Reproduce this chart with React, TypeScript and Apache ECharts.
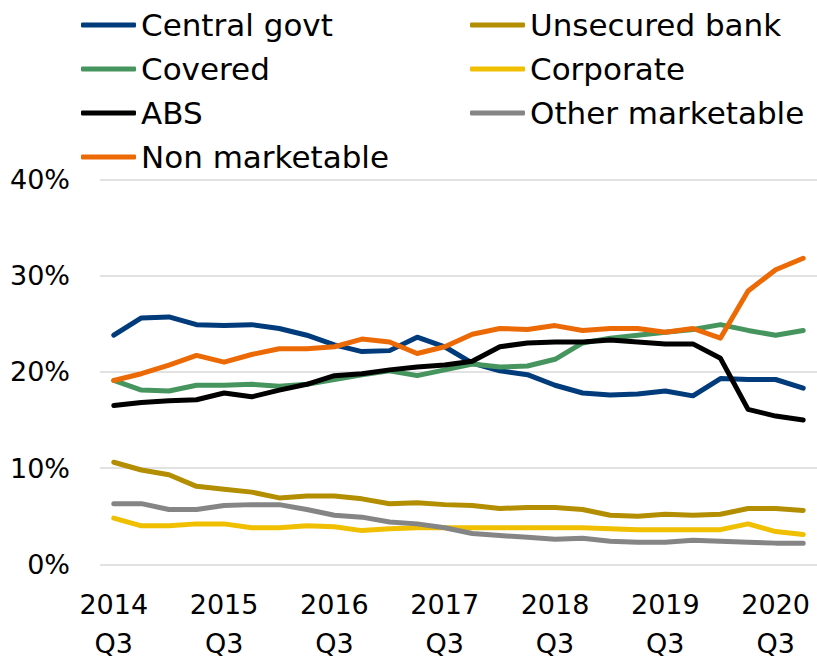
import React, { useEffect, useRef } from "react";
import * as echarts from "echarts";

const quarters: string[] = [
  "2014 Q3", "2014 Q4",
  "2015 Q1", "2015 Q2", "2015 Q3", "2015 Q4",
  "2016 Q1", "2016 Q2", "2016 Q3", "2016 Q4",
  "2017 Q1", "2017 Q2", "2017 Q3", "2017 Q4",
  "2018 Q1", "2018 Q2", "2018 Q3", "2018 Q4",
  "2019 Q1", "2019 Q2", "2019 Q3", "2019 Q4",
  "2020 Q1", "2020 Q2", "2020 Q3", "2020 Q4",
];

const centralGovt = [23.8, 25.6, 25.7, 24.9, 24.8, 24.9, 24.5, 23.8, 22.8, 22.1, 22.2, 23.6, 22.6, 20.9, 20.1, 19.7, 18.6, 17.8, 17.6, 17.7, 18.0, 17.5, 19.3, 19.2, 19.2, 18.3];
const unsecuredBank = [10.6, 9.8, 9.3, 8.1, 7.8, 7.5, 6.9, 7.1, 7.1, 6.8, 6.3, 6.4, 6.2, 6.1, 5.8, 5.9, 5.9, 5.7, 5.1, 5.0, 5.2, 5.1, 5.2, 5.8, 5.8, 5.6];
const covered = [19.1, 18.1, 18.0, 18.6, 18.6, 18.7, 18.5, 18.7, 19.2, 19.7, 20.1, 19.6, 20.2, 20.8, 20.5, 20.6, 21.3, 23.0, 23.5, 23.8, 24.1, 24.4, 24.9, 24.3, 23.8, 24.3];
const corporate = [4.8, 4.0, 4.0, 4.2, 4.2, 3.8, 3.8, 4.0, 3.9, 3.5, 3.7, 3.8, 3.8, 3.8, 3.8, 3.8, 3.8, 3.8, 3.7, 3.6, 3.6, 3.6, 3.6, 4.2, 3.4, 3.1];
const abs = [16.5, 16.8, 17.0, 17.1, 17.8, 17.4, 18.1, 18.7, 19.6, 19.8, 20.2, 20.5, 20.7, 21.1, 22.6, 23.0, 23.1, 23.1, 23.3, 23.1, 22.9, 22.9, 21.4, 16.1, 15.4, 15.0];
const otherMarketable = [6.3, 6.3, 5.7, 5.7, 6.1, 6.2, 6.2, 5.7, 5.1, 4.9, 4.4, 4.2, 3.8, 3.2, 3.0, 2.8, 2.6, 2.7, 2.4, 2.3, 2.3, 2.5, 2.4, 2.3, 2.2, 2.2];
const nonMarketable = [19.1, 19.8, 20.7, 21.7, 21.0, 21.8, 22.4, 22.4, 22.6, 23.4, 23.1, 21.9, 22.6, 23.9, 24.5, 24.4, 24.8, 24.3, 24.5, 24.5, 24.1, 24.5, 23.5, 28.4, 30.6, 31.8];

const yTicks = [0, 10, 20, 30, 40];

const seriesDefs = [
  { name: "Central govt", data: centralGovt, color: "#003b7c" },
  { name: "Unsecured bank", data: unsecuredBank, color: "#b28e00" },
  { name: "Covered", data: covered, color: "#46955f" },
  { name: "Corporate", data: corporate, color: "#efbf00" },
  { name: "ABS", data: abs, color: "#000000" },
  { name: "Other marketable", data: otherMarketable, color: "#858585" },
  { name: "Non marketable", data: nonMarketable, color: "#ec6a05" },
];

const leftLegend = ["Central govt", "Covered", "ABS", "Non marketable"];
const rightLegend = ["Unsecured bank", "Corporate", "Other marketable"];

const FONT = "DejaVu Sans";

export default function App() {
  const ref = useRef<HTMLDivElement>(null);
  useEffect(() => {
    if (!ref.current) return;
    const chart = echarts.init(ref.current, undefined, { renderer: "svg" });
    const legendBase = {
      orient: "vertical" as const,
      top: 8,
      padding: 0,
      itemGap: 10,
      itemWidth: 55,
      itemHeight: 5,
      icon: "roundRect",
      selectedMode: false,
      textStyle: { fontFamily: FONT, fontSize: 31, color: "#000", lineHeight: 34 },
    };
    chart.setOption({
      animation: false,
      backgroundColor: "#ffffff",
      legend: [
        { ...legendBase, left: 81, data: leftLegend },
        { ...legendBase, left: 470, data: rightLegend },
      ],
      grid: {
        left: 100,
        right: 0,
        top: 179.3,
        bottom: 94.7,
        containLabel: false,
        outerBoundsMode: "none",
      },
      xAxis: {
        type: "category",
        data: quarters,
        boundaryGap: true,
        axisLine: { show: false },
        axisTick: { show: false },
        axisLabel: {
          interval: 3,
          margin: 14,
          fontFamily: FONT,
          fontSize: 27,
          color: "#000",
          formatter: (v: string) => {
            const [year, q] = v.split(" ");
            return `{y|${year}}\n{q|${q}}`;
          },
          rich: {
            y: { fontFamily: FONT, fontSize: 27, color: "#000", lineHeight: 52 },
            q: { fontFamily: FONT, fontSize: 27, color: "#000", lineHeight: 26 },
          },
        },
      },
      yAxis: {
        type: "value",
        min: yTicks[0],
        max: yTicks[yTicks.length - 1],
        interval: 10,
        axisLine: { show: false },
        axisTick: { show: false },
        splitLine: { lineStyle: { color: "#d9d9d9", width: 1.5 } },
        axisLabel: {
          margin: 30,
          fontFamily: FONT,
          fontSize: 27,
          color: "#000",
          formatter: "{value}%",
        },
      },
      series: seriesDefs.map((s) => ({
        name: s.name,
        type: "line",
        data: s.data,
        symbol: "none",
        smooth: false,
        color: s.color,
        lineStyle: { color: s.color, width: 5, cap: "round", join: "round" },
        itemStyle: { color: s.color },
      })),
    });
    return () => chart.dispose();
  }, []);
  return (
    <div
      ref={ref}
      style={{ position: "fixed", left: 0, top: 0, width: 817, height: 659, background: "#fff" }}
    />
  );
}
